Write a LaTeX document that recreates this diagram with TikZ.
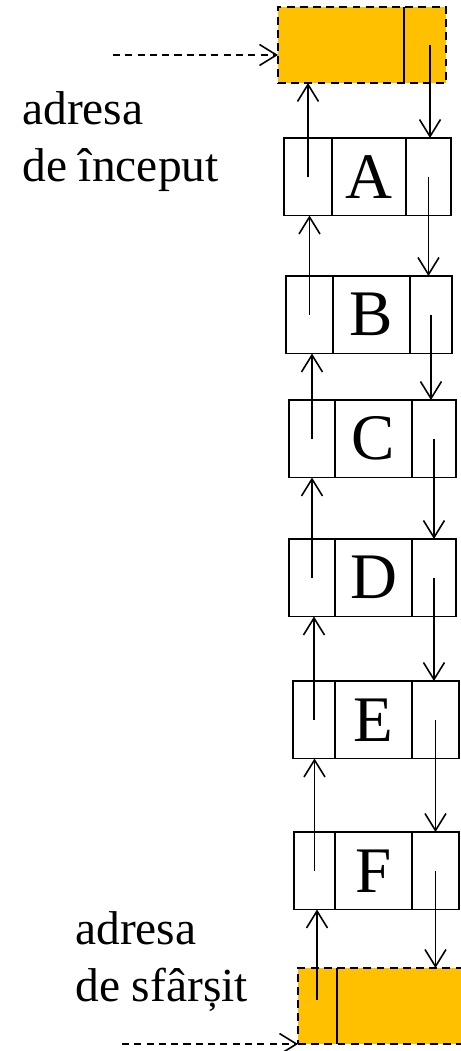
\documentclass[tikz,border=0pt]{standalone}
\usepackage{fontspec}
\setmainfont{Liberation Serif}
\usetikzlibrary{positioning,arrows.meta}
\definecolor{gold}{HTML}{FFC000}

\begin{document}
\begin{tikzpicture}[x=0.02cm,y=-0.02cm,
  cell/.style={draw,line width=1.1pt,minimum height=1.55cm,inner sep=0pt,outer sep=0pt,font=\fontsize{37}{40}\selectfont},
  head/.style={draw,fill=gold,dash pattern=on 4.5pt off 3pt,line width=1.1pt,minimum height=1.52cm,inner sep=0pt,outer sep=0pt},
  ptr/.style={-{Straight Barb[length=0.34cm,width=0.42cm]},line width=0.9pt},
  inptr/.style={ptr,dash pattern=on 4pt off 3pt},
  addr/.style={align=left,anchor=base west,inner sep=0pt,font=\fontsize{27}{32}\selectfont}]
\useasboundingbox (0,0) rectangle (460,1051);
% start and end records
\node[head,minimum width=3.36cm,anchor=north west] (top) at (278,7) {};
\draw[line width=1.1pt] (404,7) -- (404,83);
\node[head,minimum width=3.4cm,anchor=north west] (bottom) at (298,968) {};
\draw[line width=1.1pt] (337,968) -- (337,1044);
% list records
\node[cell,minimum width=0.96cm,anchor=north west] (Ap) at (284,138) {};
\node[cell,minimum width=1.48cm,right=0pt of Ap] (Ad) {A};
\node[cell,minimum width=0.90cm,right=0pt of Ad] (An) {};
\node[cell,minimum width=0.94cm,anchor=north west] (Bp) at (286,276) {};
\node[cell,minimum width=1.54cm,right=0pt of Bp] (Bd) {B};
\node[cell,minimum width=0.84cm,right=0pt of Bd] (Bn) {};
\node[cell,minimum width=0.92cm,anchor=north west] (Cp) at (289,400) {};
\node[cell,minimum width=1.54cm,right=0pt of Cp] (Cd) {C};
\node[cell,minimum width=0.88cm,right=0pt of Cd] (Cn) {};
\node[cell,minimum width=0.92cm,anchor=north west] (Dp) at (289,539) {};
\node[cell,minimum width=1.54cm,right=0pt of Dp] (Dd) {D};
\node[cell,minimum width=0.88cm,right=0pt of Dd] (Dn) {};
\node[cell,minimum width=0.84cm,anchor=north west] (Ep) at (293,681) {};
\node[cell,minimum width=1.54cm,right=0pt of Ep] (Ed) {E};
\node[cell,minimum width=0.94cm,right=0pt of Ed] (En) {};
\node[cell,minimum width=0.82cm,anchor=north west] (Fp) at (294,832) {};
\node[cell,minimum width=1.54cm,right=0pt of Fp] (Fd) {F};
\node[cell,minimum width=0.94cm,right=0pt of Fd] (Fn) {};
% labels
\node[addr] (startlbl) at (22,181) {adresa\\de început};
\node[addr] (endlbl) at (75,1001) {adresa\\de sfârșit};
% links back
\draw[ptr] (Ap.center) -- (Ap.center |- top.south);
\draw[ptr] (Bp.center) -- (Bp.center |- Ap.south);
\draw[ptr] (Cp.center) -- (Cp.center |- Bp.south);
\draw[ptr] (Dp.center) -- (Dp.center |- Cp.south);
\draw[ptr] (Ep.center) -- (Ep.center |- Dp.south);
\draw[ptr] (Fp.center) -- (Fp.center |- Ep.south);
\coordinate (botp) at (317,1000);
\draw[ptr] (botp) -- (botp |- Fp.south);
% links forward
\coordinate (topn) at (430,45);
\draw[ptr] (topn) -- (topn |- An.north);
\draw[ptr] (An.center) -- (An.center |- Bn.north);
\draw[ptr] (Bn.center) -- (Bn.center |- Cn.north);
\draw[ptr] (Cn.center) -- (Cn.center |- Dn.north);
\draw[ptr] (Dn.center) -- (Dn.center |- En.north);
\draw[ptr] (En.center) -- (En.center |- Fn.north);
\draw[ptr] (Fn.center) -- (Fn.center |- bottom.north);
% entry pointers
\coordinate (in1) at (113,55);
\draw[inptr] (in1) -- (in1 -| top.west);
\coordinate (in2) at (122,1044);
\draw[inptr] (in2) -- (in2 -| bottom.west);
\end{tikzpicture}
\end{document}
